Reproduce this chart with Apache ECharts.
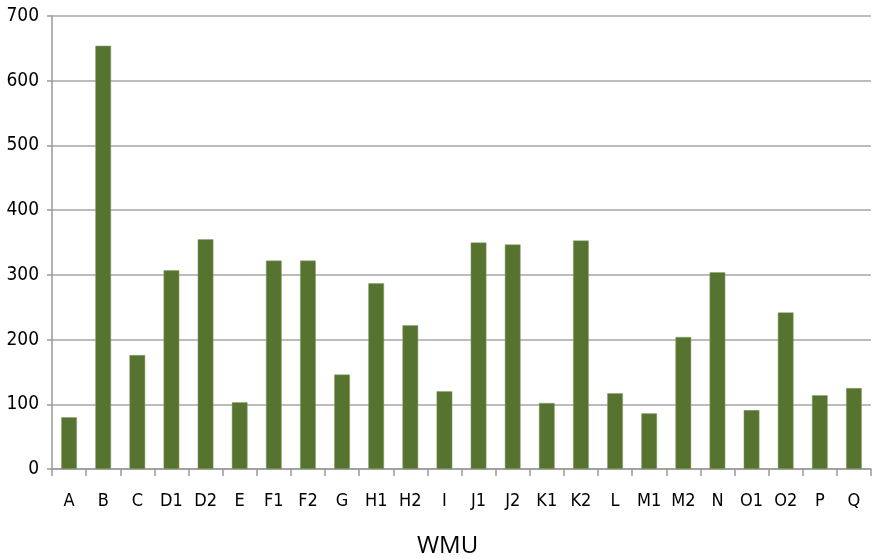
<!DOCTYPE html>
<html><head><meta charset="utf-8">
<script src="https://cdn.jsdelivr.net/npm/echarts@6/dist/echarts.min.js"></script>
<style>html,body{margin:0;padding:0;background:#fff}#c{width:872px;height:558px}</style>
</head><body><div id="c"></div>
<script>
const categories = ['A','B','C','D1','D2','E','F1','F2','G','H1','H2','I','J1','J2','K1','K2','L','M1','M2','N','O1','O2','P','Q'];
const values = [80,654,176,307,355,103,322,322,146,287,222,120,350,347,102,353,117,86,204,304,91,242,114,125];
const yTicks = [0,100,200,300,400,500,600,700];
const labelFont = '"DejaVu Sans Condensed", "Liberation Sans", sans-serif';
const chart = echarts.init(document.getElementById('c'));
chart.setOption({
  animation:false,
  grid:{left:52,right:1,top:16,bottom:89,outerBoundsMode:'none',containLabel:false},
  xAxis:{type:'category',data:categories,name:'WMU',nameLocation:'middle',nameGap:65,
    nameTextStyle:{fontFamily:'Open Sans',fontSize:24,color:'#000',padding:[0,28,0,0]},
    axisLine:{lineStyle:{color:'#999',width:1.5}},
    axisTick:{show:true,length:7,lineStyle:{color:'#999',width:1.5}},
    axisLabel:{fontFamily:labelFont,fontSize:18,color:'#000',margin:23}},
  yAxis:{type:'value',min:yTicks[0],max:yTicks[yTicks.length-1],interval:100,
    axisLine:{show:true,lineStyle:{color:'#999',width:1.5}},
    axisTick:{show:true,length:5,lineStyle:{color:'#999',width:1.5}},
    splitLine:{lineStyle:{color:'#a6a6a6',width:1.5}},
    axisLabel:{fontFamily:labelFont,fontSize:19,color:'#000',margin:13}},
  series:[{type:'bar',data:values,barWidth:'46%',
    itemStyle:{color:'#56742f',borderColor:'#8aa06e',borderWidth:0.5}}]
});
</script></body></html>
